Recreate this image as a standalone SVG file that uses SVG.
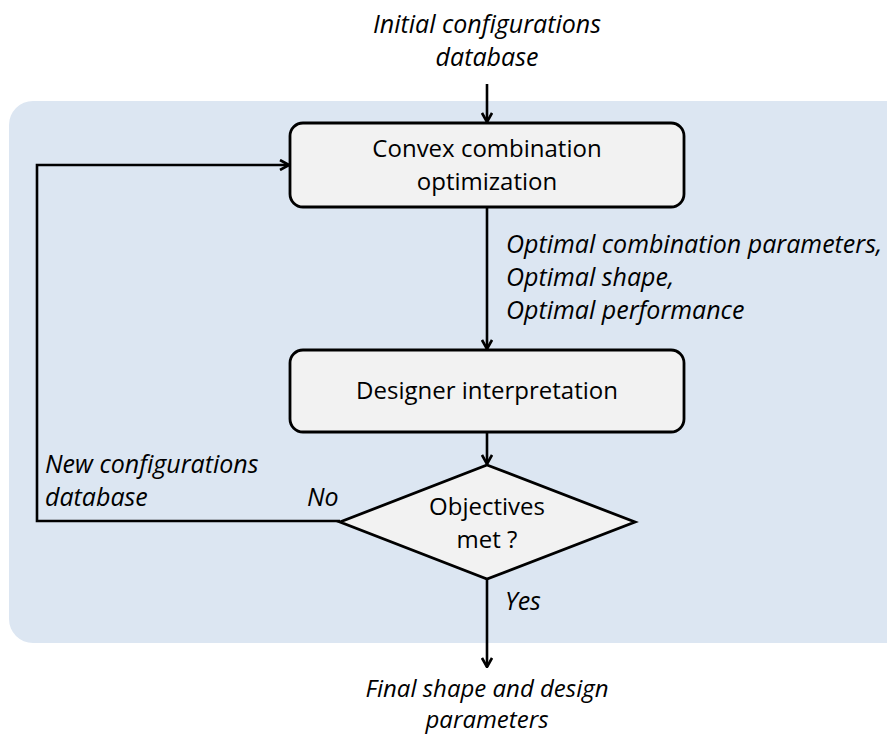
<svg xmlns="http://www.w3.org/2000/svg" width="887" height="736" viewBox="0 0 887 736">
<defs>
<style>
.t{font-family:"Open Sans","DejaVu Sans",sans-serif;font-size:24px;fill:#000}
.i{font-style:italic;font-size:25px}
.m{text-anchor:middle}
.box{fill:#f2f2f2;stroke:#000;stroke-width:2.8}
.c{fill:none;stroke:#000;stroke-width:2.6}
</style>
<marker id="ah" markerWidth="12" markerHeight="12" viewBox="0 0 12 12" refX="11" refY="6" orient="auto" markerUnits="userSpaceOnUse">
<path d="M2,1 L11,6 L2,11" fill="none" stroke="#000" stroke-width="2.6"/>
</marker>
</defs>
<rect x="9" y="101" width="900" height="542" rx="24" fill="#dce6f2"/>
<g id="connectors">
<path class="c" d="M487,84 V122" marker-end="url(#ah)"/>
<path class="c" d="M487,207 V349" marker-end="url(#ah)"/>
<path class="c" d="M487,432 V464" marker-end="url(#ah)"/>
<path class="c" d="M340,521 H37 V165 H289" marker-end="url(#ah)"/>
<path class="c" d="M487,579 V667" marker-end="url(#ah)"/>
</g>
<g id="input">
<text class="t i m" x="487" y="33">Initial configurations</text>
<text class="t i m" x="487" y="66">database</text>
</g>
<g id="convex">
<rect class="box" x="290" y="123" width="394" height="84" rx="13"/>
<text class="t m" x="487" y="157">Convex combination</text>
<text class="t m" x="487" y="190">optimization</text>
</g>
<g id="optimal-label">
<text class="t i" x="506" y="253">Optimal combination parameters,</text>
<text class="t i" x="506" y="286">Optimal shape,</text>
<text class="t i" x="506" y="319">Optimal performance</text>
</g>
<g id="designer">
<rect class="box" x="290" y="350" width="394" height="82" rx="13"/>
<text class="t m" x="487" y="399">Designer interpretation</text>
</g>
<g id="objectives">
<polygon class="box" points="487,465 635,522 487,579 340,522"/>
<text class="t m" x="487" y="515">Objectives</text>
<text class="t m" x="487" y="548">met ?</text>
</g>
<g id="new-label">
<text class="t i" x="45" y="473">New configurations</text>
<text class="t i" x="45" y="506">database</text>
</g>
<g id="no-label"><text class="t i" x="307" y="506">No</text></g>
<g id="yes-label"><text class="t i" x="505" y="610">Yes</text></g>
<g id="output">
<text class="t i m" x="487" y="697" style="font-size:24px">Final shape and design</text>
<text class="t i m" x="487" y="728" style="font-size:24px">parameters</text>
</g>
</svg>
